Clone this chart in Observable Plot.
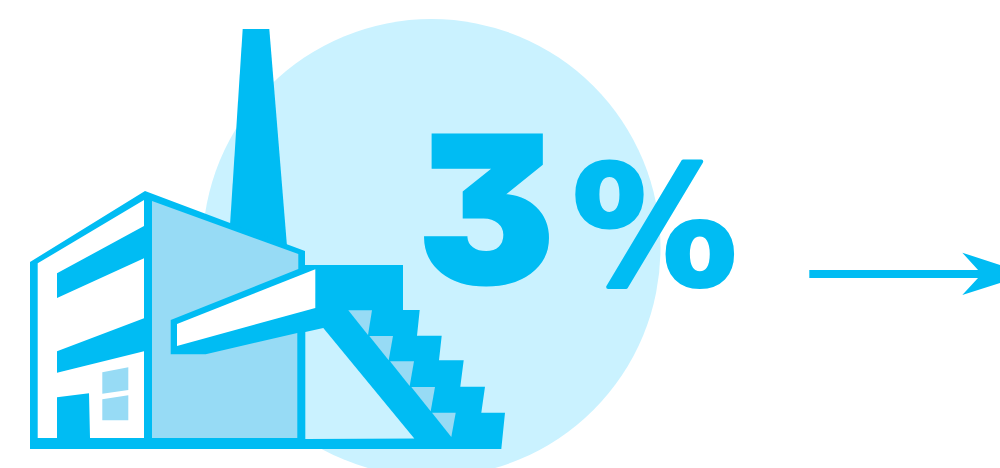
<!DOCTYPE html>
<html><head><meta charset="utf-8">
<script src="https://cdn.jsdelivr.net/npm/d3@7"></script>
<script src="https://cdn.jsdelivr.net/npm/@observablehq/plot@0.6"></script>
<style>html,body{margin:0;padding:0;background:#fff;overflow:hidden}svg{display:block}svg text{font-feature-settings:"cv09" 1}</style>
</head><body><div id="chart"></div>
<script>
const disc=[[431.5,248]];
const chimney=[[242.7,29],[269.3,29],[287.3,250],[230,225]];
const silhouette=[[30,262],[145,191],[305,251],[305,265],[403,265],[403,310],[419.7,310],[417,335.7],[441.7,335.7],[439,360.3],[463.7,360.3],[460.3,386.7],[485,386.7],[481.3,412.7],[505,412.7],[501.3,449],[30,449]];
const frontWall=[[37.7,263.3],[144,200],[144,226],[57,273.3],[57,298],[144,258.3],[144,318.3],[57,351.3],[57,372.7],[144,351.3],[144,438],[90,438],[89,393.3],[57,397.3],[57,438],[37.7,438]];
const windowTop=[[102.3,372.3],[128.3,367.3],[128.3,390],[102.3,393.7]];
const windowBottom=[[102.3,399.3],[128.3,395.3],[128.3,420.3],[102.3,420.3]];
const sideWall=[[152,201],[298.3,254],[298.3,269],[170.7,320],[170.7,354.3],[205.7,354.3],[297.3,333],[297.3,438],[152,438]];
const beam=[[177,324],[315.3,269.3],[315.3,308],[177,346]];
const underStairs=[[305.3,332],[323.3,328],[414.3,438.5],[305.3,439]];
const steps=[
 [[348.3,310.3],[372,310.3],[368,335]],
 [[369.3,336],[393,336],[388.7,360.3]],
 [[390,361.3],[414,361.3],[409.7,386]],
 [[411.3,387],[435,387],[430.7,411.3]],
 [[432,412.7],[455.7,412.7],[451.3,437]]
];
const arrowShaft=[[809.3,270],[985,270],[985,278],[809.3,278]];
const arrowHead=[[962.3,252.7],[1028,274],[962.3,295],[981.7,274]];
const bigNumber=[{x:418,y:283,label:"3"}];
const unitSign=[{x:572,y:285,label:"%"}];
const blue="#00bcf3",pale="#caf2ff",mid="#97dbf5",white="#ffffff";
const poly=(d,fill)=>Plot.line(d,{x:p=>p[0],y:p=>p[1],fill,stroke:"none",curve:"linear-closed",clip:"frame"});
const chart=Plot.plot({
 width:1000,height:468,margin:0,
 x:{domain:[0.5,1000.5],range:[0,1000],axis:null},
 y:{domain:[0.5,468.5],range:[0,468],axis:null},
 marks:[
  Plot.dot(disc,{x:d=>d[0],y:d=>d[1],r:229,fill:pale,stroke:"none",clip:"frame"}),
  poly(chimney,blue),
  poly(silhouette,blue),
  poly(frontWall,white),
  poly(windowTop,mid),poly(windowBottom,mid),
  poly(sideWall,mid),
  poly(beam,white),
  poly(underStairs,pale),
  ...steps.map(s=>poly(s,mid)),
  Plot.text(bigNumber,{x:"x",y:"y",text:"label",textAnchor:"start",lineAnchor:"bottom",fontFamily:"Inter",fontWeight:900,fontSize:204,fill:blue,stroke:blue,strokeWidth:3,strokeLinejoin:"miter"}),
  Plot.text(unitSign,{x:"x",y:"y",text:"label",textAnchor:"start",lineAnchor:"bottom",fontFamily:"DejaVu Sans",fontWeight:700,fontSize:165,fill:blue,stroke:blue,strokeWidth:4,strokeLinejoin:"round"}),
  poly(arrowShaft,blue),
  poly(arrowHead,blue)
 ]
});
document.getElementById("chart").append(chart);
</script></body></html>
